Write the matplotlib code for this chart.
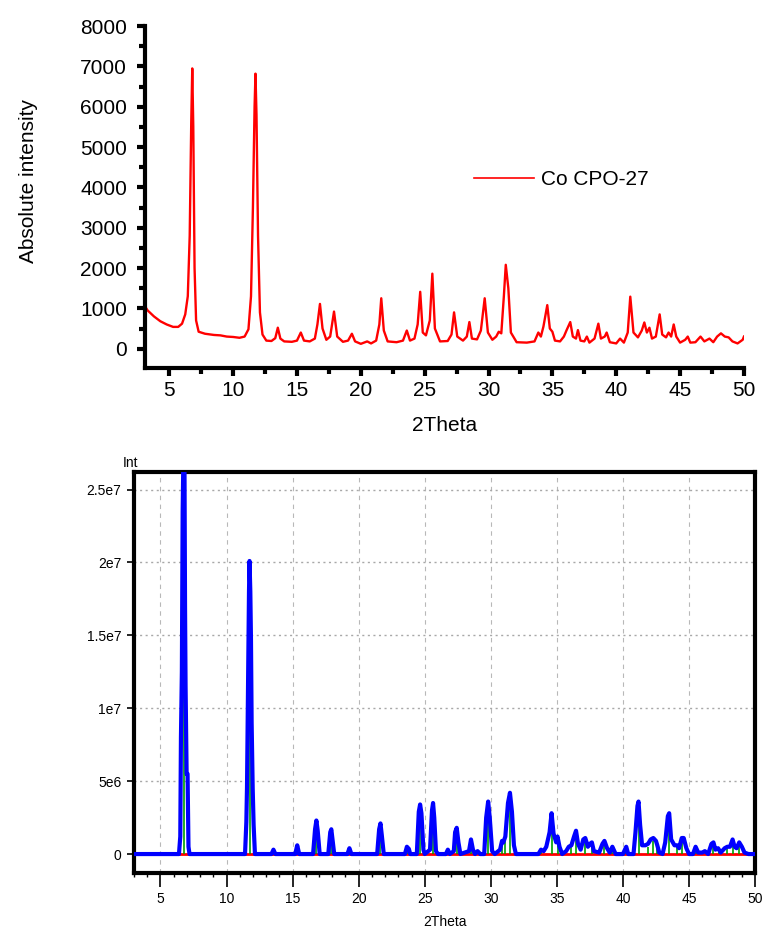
import numpy as np
import matplotlib
matplotlib.use("Agg")
import matplotlib.pyplot as plt
from matplotlib.ticker import MultipleLocator

exp_2theta = [3.0, 3.3, 3.8, 4.3, 4.8, 5.3, 5.7, 6.0, 6.25, 6.45, 6.6, 6.72, 6.8, 6.88, 6.98,
              7.1, 7.3, 7.8, 8.5, 9.0, 9.5, 10.0, 10.5, 10.9, 11.2, 11.4, 11.55, 11.68, 11.75,
              11.83, 11.95, 12.1, 12.3, 12.6, 13.0, 13.3, 13.5, 13.7, 14.0, 14.6, 15.0, 15.3,
              15.55, 16.0, 16.4, 16.6, 16.8, 17.0, 17.3, 17.6, 17.9, 18.15, 18.6, 19.0, 19.3,
              19.55, 20.0, 20.5, 20.8, 21.2, 21.45, 21.6, 21.8, 22.1, 22.8, 23.3, 23.6, 23.85,
              24.2, 24.45, 24.65, 24.85, 25.1, 25.4, 25.6, 25.8, 26.2, 26.8, 27.1, 27.3, 27.55,
              28.0, 28.3, 28.5, 28.7, 29.1, 29.4, 29.7, 29.95, 30.3, 30.6, 30.8, 31.0, 31.2,
              31.35, 31.55, 31.75, 32.2, 33.0, 33.6, 33.9, 34.1, 34.3, 34.6, 34.8, 35.0, 35.2,
              35.6, 35.9, 36.1, 36.4, 36.6, 36.85, 37.0, 37.2, 37.5, 37.7, 37.9, 38.3, 38.6,
              38.8, 39.1, 39.25, 39.5, 40.0, 40.3, 40.6, 40.9, 41.1, 41.35, 41.7, 42.0, 42.2,
              42.4, 42.6, 42.8, 43.1, 43.4, 43.6, 43.9, 44.1, 44.3, 44.5, 44.7, 45.0, 45.4,
              45.6, 45.8, 46.2, 46.6, 46.9, 47.3, 47.6, 47.9, 48.2, 48.5, 48.8, 49.1, 49.5,
              49.9, 50.0]
exp_counts = [1100, 950, 800, 680, 600, 540, 540, 620, 850, 1300, 2800, 5600, 6950, 5500, 2000,
              700, 420, 370, 340, 330, 300, 290, 270, 300, 480, 1300, 3500, 6000, 6820,
              5800, 2800, 900, 350, 200, 190, 260, 520, 250, 180, 170, 200, 400,
              200, 180, 250, 600, 1110, 500, 220, 300, 920, 300, 170, 200, 370,
              180, 120, 180, 130, 200, 600, 1250, 450, 180, 160, 200, 450, 200,
              250, 600, 1410, 400, 330, 700, 1860, 500, 180, 190, 350, 900, 300,
              200, 300, 660, 250, 230, 450, 1250, 400, 220, 300, 420, 380, 1300,
              2080, 1500, 400, 160, 150, 180, 400, 300, 550, 1080, 500, 420, 200,
              180, 300, 450, 660, 300, 250, 460, 200, 180, 300, 150, 250, 620,
              250, 300, 400, 160, 130, 250, 150, 400, 1290, 400, 280, 450, 650,
              400, 520, 250, 300, 850, 350, 280, 400, 300, 600, 300, 150, 220,
              300, 150, 160, 300, 180, 250, 160, 300, 380, 300, 280, 180, 130,
              220, 300]

# ---- simulated pattern (2theta, intensity in 1e6 units)
sim_2theta = [3.0, 6.4, 6.5, 6.55, 6.62, 6.68, 6.72, 6.82, 6.86, 6.9, 6.98, 7.05, 7.12, 7.2,
              11.4, 11.5, 11.55, 11.6, 11.66, 11.7, 11.74, 11.8, 11.85, 11.9, 11.98, 12.05,
              12.15, 13.4, 13.55, 13.7, 15.2, 15.35, 15.5, 16.55, 16.7, 16.8, 16.9, 17.05,
              17.7, 17.85, 17.93, 18.05, 18.15, 19.15, 19.3, 19.45, 21.4, 21.55, 21.65, 21.75,
              21.9, 23.5, 23.65, 23.8, 23.9, 24.4, 24.55, 24.65, 24.75, 24.9, 25.0, 25.4,
              25.55, 25.63, 25.72, 25.85, 26.0, 26.6, 26.75, 26.9, 27.2, 27.3, 27.42, 27.55,
              27.7, 28.35, 28.5, 28.65, 28.8, 29.0, 29.2, 29.5, 29.65, 29.8, 29.92, 30.1,
              30.3, 30.7, 30.85, 30.95, 31.1, 31.3, 31.45, 31.6, 31.75, 31.9, 33.6, 33.8,
              34.0, 34.2, 34.45, 34.6, 34.75, 34.95, 35.05, 35.2, 35.4, 35.7, 35.9, 36.1,
              36.3, 36.45, 36.6, 36.8, 37.0, 37.15, 37.35, 37.5, 37.65, 37.8, 38.2, 38.45,
              38.6, 38.8, 39.0, 39.2, 39.45, 40.0, 40.25, 40.4, 40.8, 40.95, 41.1, 41.18,
              41.3, 41.45, 41.7, 41.9, 42.1, 42.3, 42.5, 42.6, 42.75, 43.0, 43.2, 43.4,
              43.5, 43.65, 43.9, 44.1, 44.25, 44.45, 44.6, 44.8, 45.0, 45.3, 45.5, 45.7,
              46.0, 46.2, 46.45, 46.7, 46.85, 47.0, 47.2, 47.4, 47.7, 47.9, 48.1, 48.3,
              48.45, 48.6, 48.8, 49.0, 49.2, 49.5, 50.0]
sim_int = [0, 0, 1.2, 8, 12.5, 23.5, 26.2, 26.2, 17, 11.5, 5.5, 5.5, 0.5, 0,
           0, 2.2, 4.6, 9.2, 14.7, 18, 20.1, 18, 14.7, 9, 4.5, 2,
           0, 0, 0.3, 0, 0, 0.6, 0, 0, 1.7, 2.3, 1.6, 0,
           0, 1.5, 1.7, 0.8, 0, 0, 0.4, 0, 0, 1.7, 2.1, 1.3,
           0, 0, 0.5, 0.35, 0, 0, 2.9, 3.4, 2.8, 0.3, 0, 0.3,
           3.0, 3.5, 2.5, 0.2, 0, 0, 0.3, 0, 0.2, 1.5, 1.8, 0.8,
           0, 0.2, 1.0, 0.3, 0, 0.2, 0, 0, 2.5, 3.6, 2.5, 0.2,
           0, 0.3, 0.9, 0.8, 1.2, 3.5, 4.2, 2.9, 0.6, 0, 0, 0.3,
           0.2, 0.5, 1.5, 2.8, 1.4, 0.8, 1.2, 0.5, 0, 0.2, 0.5, 0.6,
           1.2, 1.6, 0.7, 0.3, 1.0, 1.1, 0.5, 0.7, 0.8, 0.2, 0.1, 0.7,
           0.9, 0.4, 0.1, 0.5, 0, 0, 0.5, 0, 0, 1.5, 3.3, 3.6,
           2.0, 0.6, 0.6, 0.7, 1.0, 1.1, 0.9, 0.6, 0.1, 0, 0.8, 2.6,
           2.8, 1.0, 0.6, 0.6, 0.4, 1.1, 1.1, 0.4, 0, 0, 0.5, 0.1,
           0.1, 0.2, 0, 0.7, 0.8, 0.3, 0.4, 0.1, 0.4, 0.5, 0.5, 1.0,
           0.5, 0.4, 0.8, 0.5, 0.1, 0, 0]

# reflection sticks (2theta, intensity in 1e6 units)
hkl_2theta = [6.75, 11.75, 13.55, 15.35, 16.8, 17.93, 19.3, 21.65, 23.65, 24.65, 25.63,
              26.75, 27.42, 28.5, 29.8, 30.85, 31.1, 31.45, 33.8, 34.6, 35.05, 36.1,
              36.45, 37.1, 37.65, 38.6, 39.2, 40.25, 41.18, 41.9, 42.3, 42.6, 43.5,
              44.1, 44.5, 45.5, 46.8, 47.3, 47.9, 48.3, 48.8]
hkl_int = [26, 20, 0.25, 0.5, 2.0, 1.5, 0.3, 1.8, 0.4, 3.0, 3.1,
           0.2, 1.5, 0.8, 3.2, 0.7, 1.0, 3.8, 0.2, 2.4, 1.0, 0.5,
           1.4, 0.9, 0.6, 0.7, 0.4, 0.4, 3.2, 0.5, 0.9, 0.5, 2.4,
           0.5, 0.9, 0.4, 0.6, 0.3, 0.4, 0.8, 0.6]

sim_yticks = [0, 5e6, 1e7, 1.5e7, 2e7, 2.5e7]
sim_yticklabels = ["0", "5e6", "1e7", "1.5e7", "2e7", "2.5e7"]

plt.rcParams['font.family'] = ['Liberation Sans', 'DejaVu Sans']
narrow = ['Liberation Sans Narrow', 'Liberation Sans', 'DejaVu Sans']

fig = plt.figure(figsize=(7.62, 9.31), dpi=100)

# ---------------- top: measured pattern
ax = fig.add_axes([0.1903, 0.6047, 0.786, 0.3673])
ax.plot(exp_2theta, exp_counts, c='#ff0000', lw=1.7, label="Co CPO-27")
ax.set_xlim(3.1, 50)
ax.set_ylim(-480, 8000)
ax.spines['top'].set_visible(False)
ax.spines['right'].set_visible(False)
for s in ('left', 'bottom'):
    ax.spines[s].set_linewidth(3)
ax.xaxis.set_major_locator(MultipleLocator(5))
ax.xaxis.set_minor_locator(MultipleLocator(2.5))
ax.yaxis.set_major_locator(MultipleLocator(1000))
ax.yaxis.set_minor_locator(MultipleLocator(500))
ax.tick_params(which='major', direction='out', length=6, width=3, labelsize=15, pad=3)
ax.tick_params(axis='y', which='major', pad=7)
ax.tick_params(which='minor', direction='out', length=4, width=3)
ax.set_xlabel("2Theta", fontsize=15, labelpad=12)
ax.set_ylabel("Absolute intensity", fontsize=15)
ax.yaxis.set_label_coords(-0.179, 0.547)
leg = ax.legend(loc='center left', bbox_to_anchor=(0.535, 0.55), frameon=False, fontsize=15,
                handlelength=2.9, handletextpad=0.35, borderaxespad=0)
leg.get_lines()[0].set_linewidth(1.2)

# ---------------- bottom: simulated pattern
bx = fig.add_axes([0.1759, 0.0623, 0.815, 0.4307])
sim_y = np.array(sim_int) * 1e6
bx.plot([3, 50], [0, 0], c='#ff0000', lw=2, zorder=2)
bx.vlines(hkl_2theta, 0, np.array(hkl_int) * 1e6, colors='#00a000', lw=1.2, zorder=3)
bx.plot(sim_2theta, sim_y, c='#0000ff', lw=3, zorder=4)
bx.set_xlim(3, 50)
bx.set_ylim(-1.3e6, 26.2e6)
for s in bx.spines.values():
    s.set_linewidth(3)
bx.set_yticks(sim_yticks)
bx.set_yticklabels(sim_yticklabels, family=narrow)
bx.xaxis.set_major_locator(MultipleLocator(5))
bx.xaxis.set_minor_locator(MultipleLocator(1))
for lab in bx.get_xticklabels():
    lab.set_family(narrow)
bx.tick_params(which='major', direction='out', length=5, width=1.2, labelsize=10, pad=4)
bx.tick_params(axis='x', which='major', length=10)
bx.tick_params(which='minor', direction='out', length=3, width=1)
bx.xaxis.grid(True, ls=(0, (4, 4)), color='#b8b8b8', lw=0.8)
bx.yaxis.grid(True, ls=(0, (1.5, 2.5)), color='#a8a8a8', lw=1.0)
bx.set_axisbelow(True)
bx.set_xlabel("2Theta", fontsize=10, family=narrow, labelpad=6)
bx.text(-0.018, 1.006, "Int", transform=bx.transAxes, fontsize=10, family=narrow,
        ha='left', va='bottom')

fig.savefig("out.png", dpi=100)
